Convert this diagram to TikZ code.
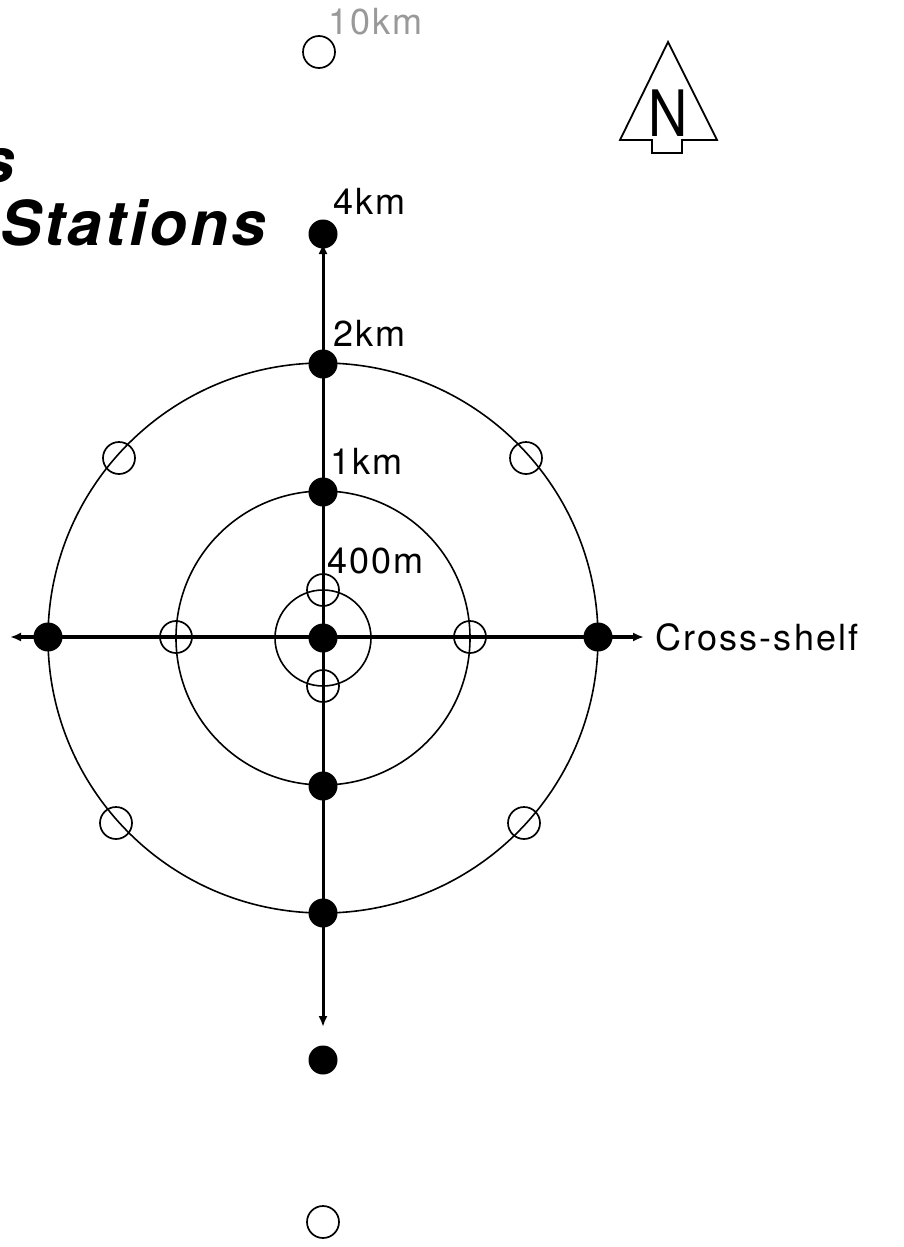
\documentclass[tikz,border=0pt]{standalone}
\usepackage{fontspec}
\usetikzlibrary{arrows.meta}
\newfontfamily\labfont[LetterSpace=6]{TeX Gyre Heros}
\newfontfamily\ttlfont[LetterSpace=5]{TeX Gyre Heros}
\newfontfamily\nfont{TeX Gyre Heros}
\begin{document}
\begin{tikzpicture}[x=1pt,y=-1pt,
  full/.style={circle,fill=black,inner sep=0pt,minimum size=29pt},
  hollow/.style={circle,draw=black,line width=1.7pt,inner sep=0pt,minimum size=32pt},
  ring/.style={line width=1.6pt},
  axis/.style={line width=#1,{Latex[length=11pt,width=9pt]}-{Latex[length=11pt,width=9pt]}},
  lab/.style={font=\labfont\fontsize{36}{40}\selectfont,anchor=base west,inner sep=0pt},
  ttl/.style={font=\ttlfont\bfseries\itshape\fontsize{62}{64}\selectfont,anchor=base east,inner sep=0pt}
]
\useasboundingbox (0,0) rectangle (904,1247);
\clip (0,0) rectangle (904,1247);
% title
\node[ttl] (t1) at (15,182) {s};
\node[ttl] (t2) at (266,245) {Stations};
% centre and rings
\coordinate (c) at (323,638);
\draw[ring] (c) circle[radius=48pt];
\draw[ring] (c) circle[radius=147pt];
\draw[ring] (c) circle[radius=275pt];
% axes
\coordinate (vtop) at (323,243);
\coordinate (vbot) at (323,1027);
\coordinate (hleft) at (10,637);
\coordinate (hright) at (644,637);
\draw[axis=3pt] (vtop) -- (vbot);
\draw[axis=3.5pt] (hleft) -- (hright);
% stations
\node[full] (s0) at (323,638) {};
\node[hollow] (i1) at (323,590) {};
\node[hollow] (i2) at (323,686) {};
\node[full] (m1) at (323,492) {};
\node[full] (m2) at (323,786) {};
\node[hollow] (m3) at (176,637) {};
\node[hollow] (m4) at (470,637) {};
\node[full] (o1) at (323,364) {};
\node[full] (o2) at (323,913) {};
\node[full] (o3) at (48,637) {};
\node[full] (o4) at (598,637) {};
\node[hollow] (d1) at (119,458) {};
\node[hollow] (d2) at (526,458) {};
\node[hollow] (d3) at (116,823) {};
\node[hollow] (d4) at (524,823) {};
\node[full] (f1) at (323,234) {};
\node[full] (f2) at (323,1060) {};
\node[hollow] (e1) at (319,52) {};
\node[hollow] (e2) at (323,1222) {};
% labels
\node[lab,text=black!40] (l10) at (328,35) {10km};
\node[lab] (l4) at (333,214) {4km};
\node[lab] (l2) at (333,346) {2km};
\node[lab] (l1) at (330,474) {1km};
\node[lab] (l04) at (327,573) {400m};
\node[lab] (lcs) at (655,650) {Cross-shelf};
% north arrow
\draw[line width=1.8pt,line join=miter] (668,42) -- (717,140) -- (682,140) -- (682,153) -- (652,153) -- (652,140) -- (620,140) -- cycle;
\node[font=\nfont\fontsize{64}{66}\selectfont,xscale=0.85,inner sep=0pt] (nn) at (668,113) {N};
\end{tikzpicture}
\end{document}
